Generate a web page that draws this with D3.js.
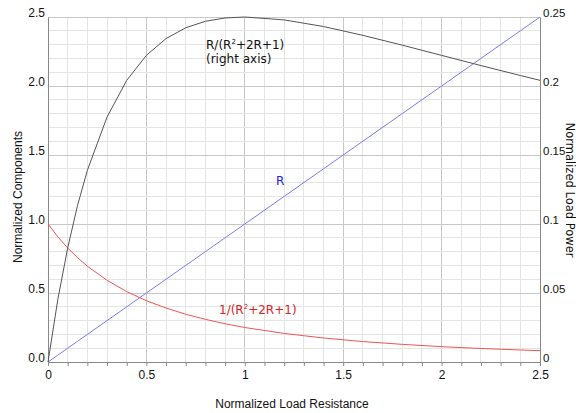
<!DOCTYPE html>
<html><head><meta charset="utf-8">
<script src="https://cdn.jsdelivr.net/npm/d3@7"></script>
<style>body{margin:0;background:#fff}svg{display:block;font-family:"DejaVu Sans",Verdana,sans-serif}</style>
</head><body><svg id="c" width="576" height="413"></svg>
<script>
const resistance = [0,0.05,0.1,0.15,0.2,0.3,0.4,0.5,0.6,0.7,0.8,0.9,1.0,1.2,1.4,1.6,1.8,2.0,2.2,2.4,2.5];
const loadPower = [0,0.0454,0.0826,0.1134,0.1389,0.1775,0.2041,0.2222,0.2344,0.2422,0.2469,0.2493,0.25,0.2479,0.2431,0.2367,0.2296,0.2222,0.2148,0.2076,0.2041];
const currentSq = [1,0.907,0.826,0.756,0.694,0.592,0.510,0.444,0.391,0.346,0.309,0.277,0.25,0.207,0.174,0.148,0.128,0.111,0.098,0.087,0.082];
const rLine = [0,0.05,0.1,0.15,0.2,0.3,0.4,0.5,0.6,0.7,0.8,0.9,1.0,1.2,1.4,1.6,1.8,2.0,2.2,2.4,2.5];
const xTicks = [0,0.5,1,1.5,2,2.5];
const xTickLabels = ["0","0.5","1","1.5","2","2.5"];
const yLeftTicks = [0,0.5,1,1.5,2,2.5];
const yLeftLabels = ["0.0","0.5","1.0","1.5","2.0","2.5"];
const yRightTicks = [0,0.05,0.1,0.15,0.2,0.25];
const yRightLabels = ["0","0.05","0.1","0.15","0.2","0.25"];

const svg = d3.select("#c");
const L=48,R=540,T=17,B=362;
const tickFont = "'Liberation Sans',Arial,sans-serif";
const x = d3.scaleLinear().domain([0,2.5]).range([L,R]);
const y = d3.scaleLinear().domain([0,2.5]).range([B,T]);
const y2 = d3.scaleLinear().domain([0,0.25]).range([B,T]);

// grid
const g = svg.append("g");
const isMajor = d=>Math.abs(d*2-Math.round(d*2))<1e-6;
g.selectAll(".vmin").data(d3.range(1,25).map(i=>i/10)).join("line")
 .attr("x1",d=>x(d)).attr("x2",d=>x(d)).attr("y1",T).attr("y2",B)
 .attr("stroke",d=>isMajor(d)?"#c8c8c8":"#e4e4e4").attr("stroke-width",1).attr("shape-rendering","crispEdges");
g.selectAll(".hmin").data(d3.range(1,25).map(i=>i/10)).join("line")
 .attr("y1",d=>y(d)).attr("y2",d=>y(d)).attr("x1",L).attr("x2",R)
 .attr("stroke",d=>isMajor(d)?"#c8c8c8":"#e4e4e4").attr("stroke-width",1).attr("shape-rendering","crispEdges");
g.append("line").attr("x1",L).attr("x2",R).attr("y1",T).attr("y2",T).attr("stroke","#c8c8c8").attr("shape-rendering","crispEdges");

// axes
const ax = d3.axisBottom(x).tickValues(d3.range(0,26).map(i=>i/10)).tickSize(4).tickFormat(d=>{const i=xTicks.findIndex(t=>Math.abs(t-d)<1e-6);return i>=0?xTickLabels[i]:"";});
const gx = svg.append("g").attr("transform",`translate(0,${B})`).call(ax);
gx.select(".domain").attr("stroke","#888");
gx.selectAll(".tick line").attr("stroke","#888");
gx.selectAll("text").attr("font-family",tickFont).attr("font-size",12).attr("fill","#111").attr("dy","0.85em");

const ayl = d3.axisLeft(y).tickValues(yLeftTicks).tickSize(0).tickPadding(3).tickFormat((d,i)=>yLeftLabels[i]);
const gyl = svg.append("g").attr("transform",`translate(${L},0)`).call(ayl);
gyl.select(".domain").attr("stroke","#888");
gyl.selectAll("text").attr("font-family",tickFont).attr("font-size",12).attr("fill","#111").attr("dy","-0.05em");

const ayr = d3.axisRight(y2).tickValues(yRightTicks).tickSize(0).tickPadding(3).tickFormat((d,i)=>yRightLabels[i]);
const gyr = svg.append("g").attr("transform",`translate(${R},0)`).call(ayr);
gyr.select(".domain").attr("stroke","#888");
gyr.selectAll("text").attr("font-family",tickFont).attr("font-size",11.5).attr("fill","#111").attr("dy","-0.05em");

// lines
const line = (ys)=>d3.line().x(d=>x(d[0])).y(d=>ys(d[1]));
svg.append("path").datum(resistance.map((r,i)=>[r,rLine[i]])).attr("d",line(y)).attr("fill","none").attr("stroke","#7b7bf0").attr("stroke-width",1);
svg.append("path").datum(resistance.map((r,i)=>[r,currentSq[i]])).attr("d",line(y)).attr("fill","none").attr("stroke","#ee5555").attr("stroke-width",1);
svg.append("path").datum(resistance.map((r,i)=>[r,loadPower[i]])).attr("d",line(y2)).attr("fill","none").attr("stroke","#555").attr("stroke-width",1);

// annotations
function formula(xx,yy,color,pre){
  const tx = svg.append("text").attr("x",xx).attr("y",yy).attr("font-size",12).attr("fill",color);
  tx.append("tspan").text(pre+"(R");
  tx.append("tspan").attr("font-size",7).attr("dy",-5).text("2");
  tx.append("tspan").attr("dy",5).text("+2R+1)");
  return tx;
}
formula(206,49,"#111","R/");
svg.append("text").attr("x",206).attr("y",63).attr("font-size",12).attr("fill","#111").text("(right axis)");
svg.append("text").attr("x",276).attr("y",185).attr("font-size",12).attr("fill","#2222dd").text("R");
formula(219,314,"#dd2222","1/");

// axis titles
svg.append("text").attr("x",292).attr("y",408).attr("text-anchor","middle").attr("font-family","'Liberation Sans',Arial,sans-serif").attr("font-size",12).attr("fill","#111").text("Normalized Load Resistance");
svg.append("text").attr("transform","translate(22,197) rotate(-90)").attr("text-anchor","middle").attr("font-family","'Liberation Sans',Arial,sans-serif").attr("font-size",12).attr("fill","#111").text("Normalized Components");
svg.append("text").attr("transform","translate(566,190) rotate(90)").attr("text-anchor","middle").attr("font-size",11.5).attr("fill","#111").text("Normalized Load Power");
</script></body></html>
